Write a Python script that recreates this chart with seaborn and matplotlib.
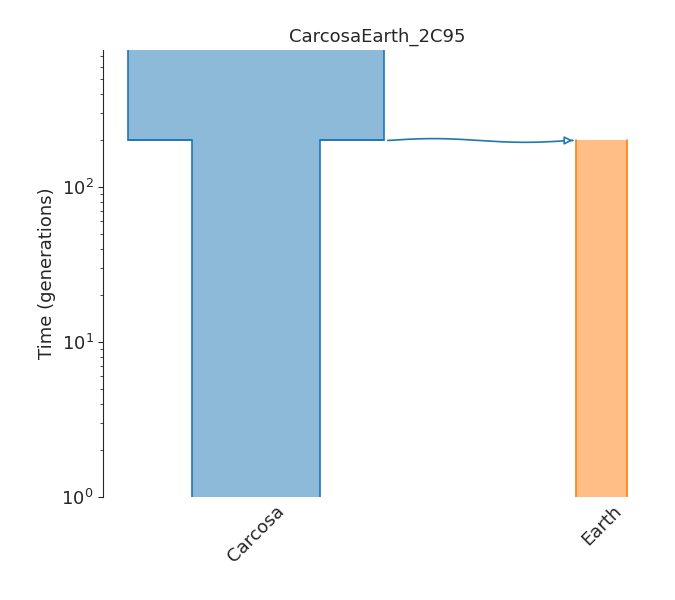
import numpy as np
import matplotlib
matplotlib.use("Agg")
import matplotlib.pyplot as plt
import seaborn as sns

sns.set_style("ticks")
plt.rcParams['font.family'] = ['DejaVu Sans']

demes = ["Carcosa", "Earth"]
positions = [0, 2703]
# epochs: (start_time, end_time, size)
carcosa_epochs = [(800, 200, 2000), (200, 1, 1000)]
earth_epochs = [(200, 1, 400)]
pulse_time = 200
colors = ["#1f77b4", "#ff7f0e"]

fig, ax = plt.subplots(figsize=(6.75, 6.0), dpi=100)
fig.subplots_adjust(left=0.153, right=0.964, top=0.917, bottom=0.172)

def draw_deme(ax, x0, epochs, color):
    xs, ys = [], []
    for start, end, size in epochs:
        xs += [x0 - size / 2, x0 - size / 2]
        ys += [start, end]
    rx, ry = [], []
    for start, end, size in reversed(epochs):
        rx += [x0 + size / 2, x0 + size / 2]
        ry += [end, start]
    ax.fill(xs + rx, ys + ry, facecolor=color, alpha=0.5, edgecolor="none")
    ax.plot(xs, ys, color=color, lw=1.2)
    ax.plot(rx, ry, color=color, lw=1.2)
    for i in range(len(epochs) - 1):
        a, b = epochs[i][2], epochs[i + 1][2]
        t = epochs[i][1]
        ax.plot([x0 - a / 2, x0 - b / 2], [t, t], color=color, lw=1.2)
        ax.plot([x0 + b / 2, x0 + a / 2], [t, t], color=color, lw=1.2)

draw_deme(ax, positions[0], carcosa_epochs, colors[0])
draw_deme(ax, positions[1], earth_epochs, colors[1])

# migration pulse Carcosa -> Earth
x_start = positions[0] + 1000 + 30
x_end = positions[1] - 200 - 45
xw = np.linspace(x_start, x_end, 200)
yw = pulse_time * 10 ** (0.012 * np.sin((xw - x_start) / (x_end - x_start) * 2 * np.pi))
ax.plot(xw, yw, color=colors[0], lw=1.2)
ax.annotate("", xy=(x_end + 40, pulse_time), xytext=(x_end - 5, pulse_time),
            arrowprops=dict(arrowstyle="-|>", color=colors[0], lw=1.2,
                            fc="white", mutation_scale=12))

ax.set_yscale("log")
ax.set_ylim(1, 770)
ax.set_xlim(-1195, 3086)
ax.set_xticks(positions)
ax.set_xticklabels(demes, rotation=45, fontsize=13)
ax.tick_params(axis="x", length=0)
ax.tick_params(axis="y", labelsize=13)
ax.set_ylabel("Time (generations)", fontsize=13)
ax.set_title("CarcosaEarth_2C95", fontsize=13)
for s in ["top", "right", "bottom"]:
    ax.spines[s].set_visible(False)

fig.savefig("out.png", dpi=100)
